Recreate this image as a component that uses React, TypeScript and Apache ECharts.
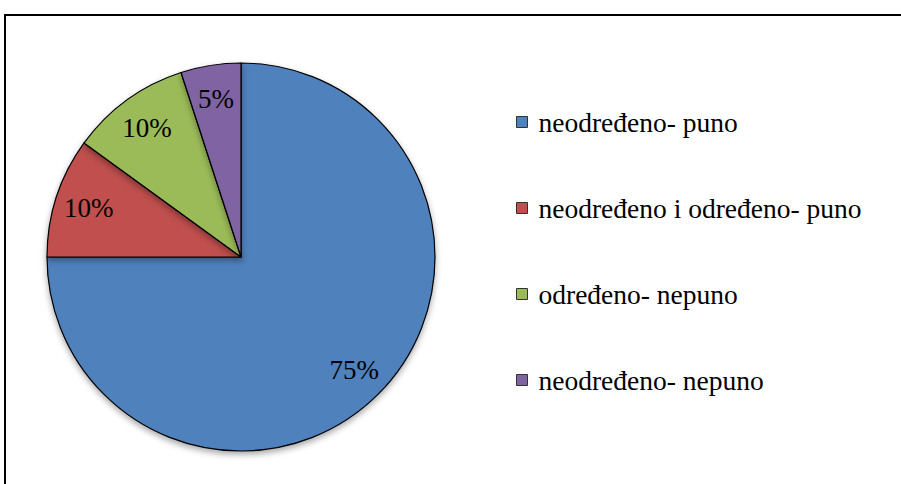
import React, { useEffect, useRef } from "react";
import * as echarts from "echarts";

const categories = [
  "neodređeno- puno",
  "neodređeno i određeno- puno",
  "određeno- nepuno",
  "neodređeno- nepuno",
];
const values = [75, 10, 10, 5];
const colors = ["#4F81BD", "#C0504D", "#9BBB59", "#8064A2"];

const FONT = "Liberation Serif";

export default function App() {
  const ref = useRef<HTMLDivElement>(null);
  useEffect(() => {
    document.body.style.margin = "0";
    const chart = echarts.init(ref.current!, undefined, { renderer: "svg" });
    const data = categories.map((name, i) => ({
      name,
      value: values[i],
      itemStyle: { color: colors[i] },
    }));
    chart.setOption({
      animation: false,
      backgroundColor: "#ffffff",
      graphic: [
        {
          type: "rect",
          shape: { x: 5, y: 15, width: 920, height: 500 },
          style: { fill: "none", stroke: "#000", lineWidth: 2 },
          silent: true,
        },
      ],
      legend: {
        orient: "vertical",
        left: 511,
        top: 103,
        itemWidth: 11,
        itemHeight: 11,
        itemGap: 58,
        icon: "rect",
        data: categories,
        textStyle: {
          fontFamily: FONT,
          fontSize: 27.5,
          color: "#000",
          padding: [0, 0, 0, 6],
        },
        itemStyle: { borderColor: "#333", borderWidth: 1 },
      },
      series: [
        {
          type: "pie",
          center: [241, 257],
          radius: [0, 194],
          startAngle: 90,
          clockwise: true,
          data,
          label: { show: false },
          labelLine: { show: false },
          itemStyle: {
            borderColor: "#000",
            borderWidth: 1.2,
            shadowBlur: 6,
            shadowOffsetY: 3,
            shadowColor: "rgba(0,0,0,0.35)",
          },
          silent: true,
        },
        {
          type: "pie",
          center: [241, 257],
          radius: [120, 194],
          startAngle: 90,
          clockwise: true,
          data: categories.map((name, i) => ({ name, value: values[i] })),
          itemStyle: { color: "rgba(0,0,0,0)", borderWidth: 0 },
          label: {
            show: true,
            position: "inside",
            formatter: "{c}%",
            fontFamily: FONT,
            fontSize: 27,
            color: "#000",
          },
          labelLine: { show: false },
          silent: true,
          legendHoverLink: false,
        },
      ],
    });
    return () => chart.dispose();
  }, []);
  return (
    <div
      ref={ref}
      style={{ position: "absolute", left: 0, top: 0, width: 901, height: 484 }}
    />
  );
}
